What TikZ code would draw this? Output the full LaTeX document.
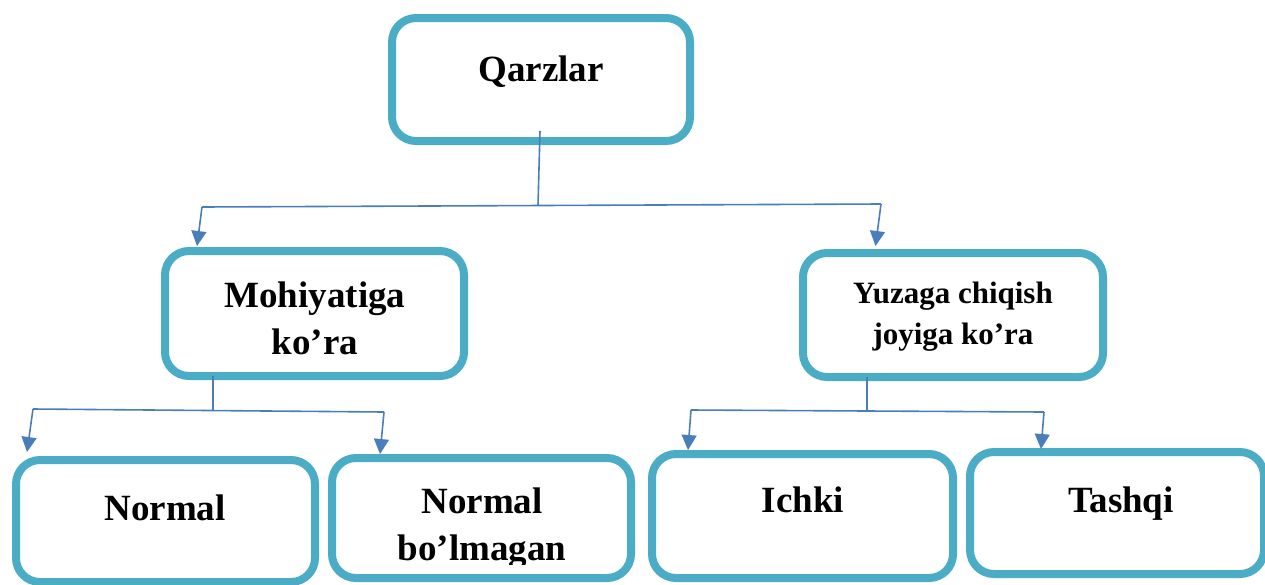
\documentclass[tikz,border=0pt]{standalone}
\usepackage{fontspec}
\setmainfont{Liberation Serif}
\usetikzlibrary{arrows.meta}
\definecolor{boxcol}{HTML}{4BACC6}
\definecolor{linecol}{HTML}{4A7EBB}
\tikzset{
  box/.style={draw=boxcol, line width=8pt, rounded corners=24pt, inner sep=0pt},
  conn/.style={draw=linecol, line width=1.6pt},
  arr/.style={conn, -{Triangle[length=15pt,width=15pt]}},
  big/.style={font=\bfseries\fontsize{37}{47}\selectfont, align=center, anchor=base, inner sep=0pt},
  mid/.style={font=\bfseries\fontsize{31}{41}\selectfont, align=center, anchor=base, inner sep=0pt},
}
\begin{document}
\begin{tikzpicture}[x=1pt,y=-1pt]
\useasboundingbox (0,0) rectangle (1265,584);
% boxes
\node[box, minimum width=298pt, minimum height=123pt] (Q) at (541,79.5) {};
\node[box, minimum width=299pt, minimum height=125pt] (M) at (314.5,313.5) {};
\node[box, minimum width=300pt, minimum height=124pt] (Y) at (953,315) {};
\node[box, minimum width=299pt, minimum height=122pt] (N) at (165.5,521) {};
\node[box, minimum width=299pt, minimum height=120pt] (NB) at (481.5,518) {};
\node[box, minimum width=301pt, minimum height=124pt] (I) at (802.5,516) {};
\node[box, minimum width=294pt, minimum height=122pt] (T) at (1117,513) {};
% texts
\node[big] (tQ) at (541,81) {Qarzlar};
\node[big] (tM) at (315,354) {Mohiyatiga\\ko’ra};
\node[mid] (tY) at (953,344) {Yuzaga chiqish\\joyiga ko’ra};
\node[big] (tN) at (165,520) {Normal};
\begin{scope}
\clip (330,440) rectangle (640,564);
\node[big] (tNB) at (482,560) {Normal\\bo’lmagan};
\end{scope}
\node[big] (tI) at (803,512) {Ichki};
\node[big] (tT) at (1121,512) {Tashqi};
% connector points
\coordinate (qs) at (540,131);
\coordinate (qj) at (538,205.5);
\coordinate (ql) at (202,207);
\coordinate (qr) at (881,204);
\coordinate (qlt) at (197,246);
\coordinate (qrt) at (875.5,246);
\coordinate (ms) at (213,376);
\coordinate (mj) at (213,410);
\coordinate (ml) at (33,409);
\coordinate (mr) at (384,412);
\coordinate (mlt) at (27,452);
\coordinate (mrt) at (380,454);
\coordinate (ys) at (867,377);
\coordinate (yj) at (867,411);
\coordinate (yl) at (691,410);
\coordinate (yr) at (1044,412);
\coordinate (ylt) at (688,450);
\coordinate (yrt) at (1041,449);
% connectors
\draw[conn] (qs) -- (qj);
\draw[conn] (ql) -- (qr);
\draw[arr] (ql) -- (qlt);
\draw[arr] (qr) -- (qrt);
\draw[conn] (ms) -- (mj);
\draw[conn] (ml) -- (mr);
\draw[arr] (ml) -- (mlt);
\draw[arr] (mr) -- (mrt);
\draw[conn] (ys) -- (yj);
\draw[conn] (yl) -- (yr);
\draw[arr] (yl) -- (ylt);
\draw[arr] (yr) -- (yrt);
\end{tikzpicture}
\end{document}
